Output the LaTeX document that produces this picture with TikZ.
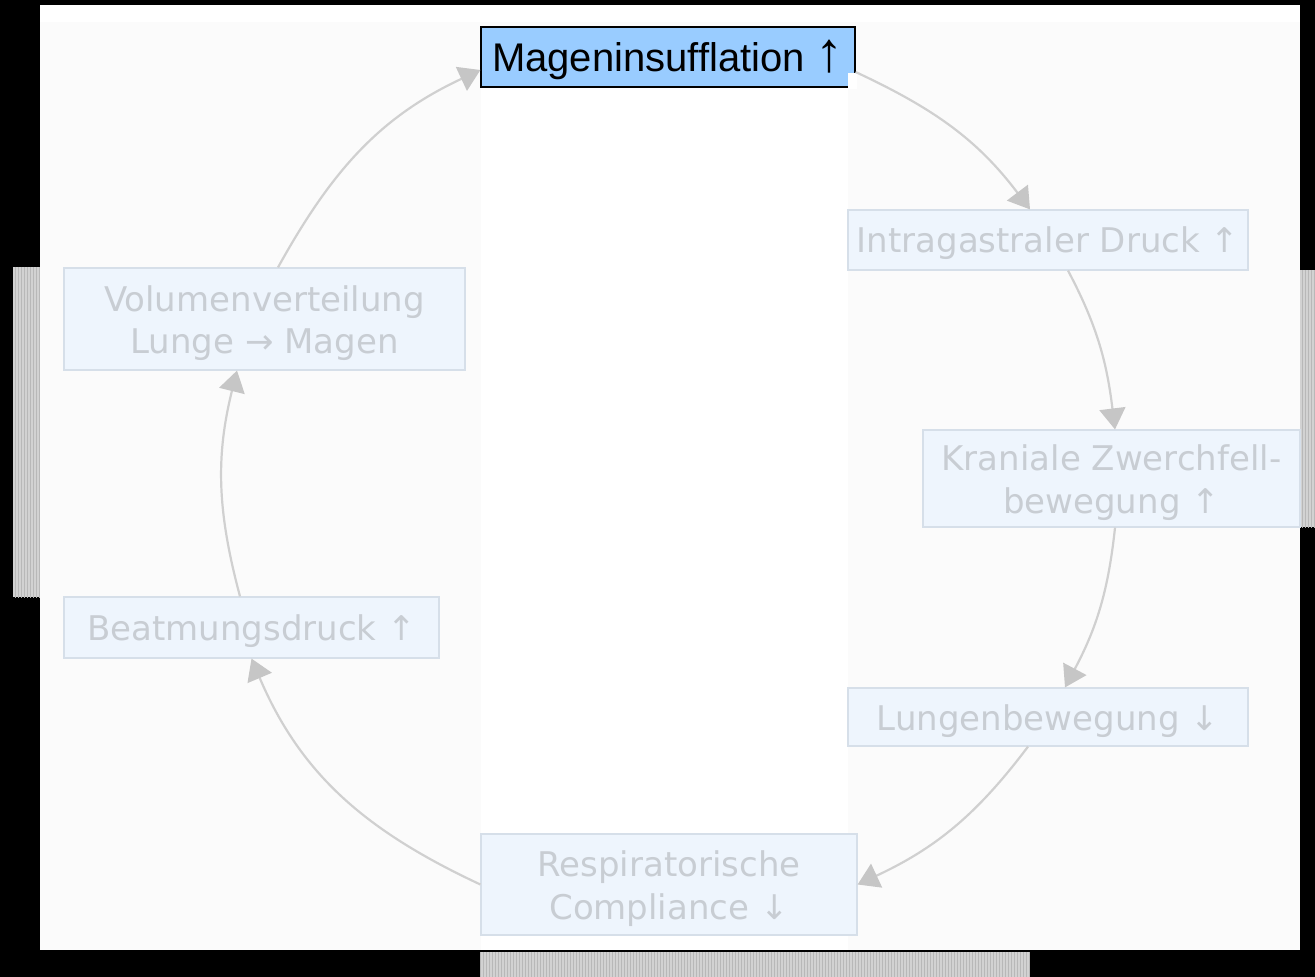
\documentclass[tikz,border=0pt]{standalone}
\usepackage{fontspec}
\usetikzlibrary{arrows.meta,patterns}
\newfontfamily\vfont{DejaVu Sans}
\newfontfamily\afont{Liberation Sans}
\definecolor{bgoff}{HTML}{FBFBFB}
\definecolor{boxfill}{HTML}{EEF5FD}
\definecolor{boxline}{HTML}{D6DFE9}
\definecolor{fadetext}{HTML}{C8CDD3}
\definecolor{arrowgray}{HTML}{D0D0D0}
\definecolor{tipgray}{HTML}{C6C6C6}
\definecolor{topblue}{HTML}{99CCFF}
\definecolor{stripgray}{HTML}{D2D2D2}
\definecolor{stripline}{HTML}{B8B8B8}
\tikzset{
  fadebox/.style={draw=boxline, line width=1.2pt, fill=boxfill, inner sep=0pt},
  fadelabel/.style={inner sep=0pt, text=fadetext, align=center,
    font=\vfont\fontsize{34}{42.5}\selectfont},
  topbox/.style={draw=black, line width=1.2pt, fill=topblue, inner sep=0pt},
  toplabel/.style={inner sep=0pt, text=black, font=\afont\fontsize{40}{46}\selectfont},
  flow/.style={draw=arrowgray, line width=2.2pt,
    -{Triangle[length=21pt,width=26pt,fill=tipgray,color=tipgray]}},
  strip/.style={fill=stripgray, pattern color=stripline}
}
\begin{document}
\begin{tikzpicture}[x=1pt,y=-1pt]
\useasboundingbox (0,0) rectangle (1315,977);
% background
\fill[black] (0,0) rectangle (1315,977);
\fill[bgoff] (40,5) rectangle (1300,950);
\fill[white] (40,5) rectangle (1300,22);
\fill[white] (481,72) rectangle (848,950);
% grey strips
\fill[stripgray] (13,267) rectangle (40,597);
\fill[pattern=vertical lines, pattern color=stripline] (13,267) rectangle (40,597);
\fill[stripgray] (1300,270) rectangle (1315,527);
\fill[pattern=vertical lines, pattern color=stripline] (1300,270) rectangle (1315,527);
\fill[stripgray] (480,952) rectangle (1030,977);
\fill[pattern=vertical lines, pattern color=stripline] (480,952) rectangle (1030,977);

% boxes
\node[fadebox, minimum width=400pt, minimum height=60pt] (intra) at (1048,240) {};
\node[fadebox, minimum width=377pt, minimum height=97pt] (kran) at (1111.5,478.5) {};
\node[fadebox, minimum width=400pt, minimum height=58pt] (lung) at (1048,717) {};
\node[fadebox, minimum width=376pt, minimum height=101pt] (resp) at (669,884.5) {};
\node[fadebox, minimum width=375pt, minimum height=61pt] (beat) at (251.5,627.5) {};
\node[fadebox, minimum width=401pt, minimum height=102pt] (vol) at (264.5,319) {};
\node[topbox, minimum width=374pt, minimum height=60pt] (mag) at (668,57) {};
\fill[white] (847.5,73) rectangle (857,89);

% texts
\node[fadelabel] (intratext) at ([yshift=-3pt]intra.center) {Intragastraler Druck ↑};
\node[fadelabel] (krantext) at ([yshift=-4pt]kran.center) {Kraniale Zwerchfell-\\bewegung ↑};
\node[fadelabel] (lungtext) at ([yshift=-4pt]lung.center) {Lungenbewegung ↓};
\node[fadelabel] (resptext) at ([yshift=-4pt]resp.center) {Respiratorische\\Compliance ↓};
\node[fadelabel] (beattext) at ([yshift=-4pt]beat.center) {Beatmungsdruck ↑};
\node[fadelabel] (voltext) at ([yshift=-4pt]vol.center) {Volumenverteilung\\Lunge → Magen};
\node[toplabel, anchor=base] (magtext) at ([yshift=-14pt]mag.center) {Mageninsufflation \scalebox{1.4}{↑}};

% connectors
\draw[flow] ([yshift=-15pt]mag.east) to[out=-25,in=127] ([xshift=-18pt]intra.north);
\draw[flow] ([xshift=20pt]intra.south) to[out=-62,in=97] ([xshift=3.5pt]kran.north);
\draw[flow] ([xshift=3.5pt]kran.south) to[out=-96,in=62] ([xshift=17pt]lung.north);
\draw[flow] ([xshift=-20pt]lung.south) to[out=-127,in=25] (resp.east);
\draw[flow] (resp.west) to[out=155,in=-67] (beat.south);
\draw[flow] ([xshift=-11.5pt]beat.north) to[out=105,in=-104] ([xshift=-27.5pt]vol.south);
\draw[flow] ([xshift=13.5pt]vol.north) to[out=61,in=-155] ([yshift=-13pt]mag.west);
\end{tikzpicture}
\end{document}
